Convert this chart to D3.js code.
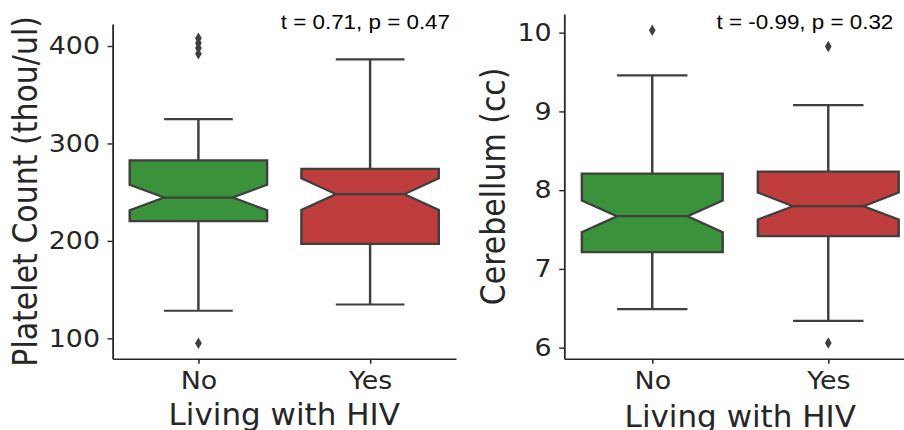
<!DOCTYPE html>
<html>
<head>
<meta charset="utf-8">
<script src="https://d3js.org/d3.v7.min.js"></script>
<style>
  html, body { margin: 0; padding: 0; background: #fff; overflow: hidden; }
</style>
</head>
<body>
<svg id="chart"></svg>
<script>
// data
var cats = ["No", "Yes"]
var colors = ["#3a923a", "#c03d3e"]

// platelet count: [whisker low, q1, notch low, median, notch high, q3, whisker high]
var plateletNo = [128.3, 220.3, 231.4, 244.5, 257.6, 282.6, 325]
var plateletYes = [134.7, 197, 231.7, 248, 264.3, 274, 386.3]
var plateletOutNo = [408, 403, 398, 392, 95]
var plateletOutYes = []
var plateletTicks = [100, 200, 300, 400]

// cerebellum volume
var cerebNo = [6.49, 7.213, 7.467, 7.67, 7.868, 8.21, 9.457]
var cerebYes = [6.34, 7.416, 7.627, 7.797, 7.97, 8.236, 9.08]
var cerebOutNo = [10.03]
var cerebOutYes = [9.825, 6.06]
var cerebTicks = [6, 7, 8, 9, 10]

// the picture is a bit wider than tall, so stretch horizontally
var sx = 1.12
var W = 904 / sx, H = 430

var svg = d3.select('#chart')
  .attr('width', 904)
  .attr('height', 430)
  .attr('viewBox', `0 0 ${W} ${H}`)
  .attr('preserveAspectRatio', 'none')

var edge = '#3f3f3f'
var ink = '#262626'
var lw = 2.2

function panel(opts) {
  var g = svg.append('g')

  var x = d3.scalePoint()
    .domain(cats)
    .range(opts.xr)
    .padding(0.5)
  var y = d3.scaleLinear()
    .domain(opts.yd)
    .range([358.7, opts.top])

  var step = x.step()
  var bw = step * 0.8

  var stats = [opts.a, opts.b]
  var outs = [opts.outA, opts.outB]

  stats.forEach(function(s, i) {
    var cx = x(cats[i])
    var L = cx - bw / 2, R = cx + bw / 2
    var cl = cx - bw / 4, cr = cx + bw / 4

    // whiskers
    g.append('line')
      .attr('x1', cx).attr('x2', cx)
      .attr('y1', y(s[0])).attr('y2', y(s[1]))
      .attr('stroke', edge).attr('stroke-width', lw)
    g.append('line')
      .attr('x1', cx).attr('x2', cx)
      .attr('y1', y(s[5])).attr('y2', y(s[6]))
      .attr('stroke', edge).attr('stroke-width', lw)
    // caps
    g.append('line')
      .attr('x1', cl).attr('x2', cr)
      .attr('y1', y(s[0])).attr('y2', y(s[0]))
      .attr('stroke', edge).attr('stroke-width', lw)
    g.append('line')
      .attr('x1', cl).attr('x2', cr)
      .attr('y1', y(s[6])).attr('y2', y(s[6]))
      .attr('stroke', edge).attr('stroke-width', lw)

    // notched box
    var pts = [
      [L, y(s[1])], [L, y(s[2])], [cl, y(s[3])], [L, y(s[4])], [L, y(s[5])],
      [R, y(s[5])], [R, y(s[4])], [cr, y(s[3])], [R, y(s[2])], [R, y(s[1])]
    ]
    g.append('path')
      .attr('d', d3.line()(pts) + 'Z')
      .attr('fill', colors[i])
      .attr('stroke', edge)
      .attr('stroke-width', lw)
      .attr('stroke-linejoin', 'miter')

    // median
    g.append('line')
      .attr('x1', cl).attr('x2', cr)
      .attr('y1', y(s[3])).attr('y2', y(s[3]))
      .attr('stroke', edge).attr('stroke-width', lw)

    // outliers (thin diamonds)
    g.selectAll(null)
      .data(outs[i])
      .enter().append('path')
      .attr('d', function(v) {
        var yy = y(v)
        return `M${cx},${yy - 5.7}L${cx + 3},${yy}L${cx},${yy + 5.7}L${cx - 3},${yy}Z`
      })
      .attr('fill', edge)
  })

  // axes
  var ya = g.append('g')
    .attr('transform', `translate(${opts.xr[0]},0)`)
    .call(d3.axisLeft(y).tickValues(opts.ticks).tickFormat(d3.format('d'))
      .tickSize(4.5).tickSizeOuter(0).tickPadding(6.7))
  var xa = g.append('g')
    .attr('transform', `translate(0,358.7)`)
    .call(d3.axisBottom(x).tickSize(5).tickSizeOuter(0).tickPadding(8.2))

  ;[ya, xa].forEach(function(a) {
    a.select('.domain').attr('stroke', ink).attr('stroke-width', 1.6)
    a.selectAll('.tick line').attr('stroke', ink).attr('stroke-width', 1.4)
    a.selectAll('.tick text')
      .attr('fill', ink)
      .style('font-family', "'DejaVu Sans', sans-serif")
      .style('font-size', '24px')
  })

  // axis titles (x title is not stretched in the reference)
  var xm = (opts.xr[0] + opts.xr[1]) / 2
  g.append('text')
    .attr('transform', `translate(${xm},${opts.xlabY}) scale(${1 / sx},1)`)
    .attr('text-anchor', 'middle')
    .attr('fill', ink)
    .style('font-family', "'DejaVu Sans', sans-serif")
    .style('font-size', '31px')
    .text('Living with HIV')

  g.append('text')
    .attr('transform', `translate(${opts.ylabX},${(358.7 + opts.top) / 2}) rotate(-90)`)
    .attr('text-anchor', 'middle')
    .attr('fill', ink)
    .style('font-family', "'DejaVu Sans', sans-serif")
    .style('font-size', '30px')
    .text(opts.ylab)

  // stats note
  g.append('text')
    .attr('x', opts.noteX)
    .attr('y', 29)
    .attr('text-anchor', 'end')
    .attr('fill', '#000')
    .style('font-family', "'Liberation Sans', Arial, sans-serif")
    .style('font-size', '20px')
    .text(opts.note)
}

panel({
  xr: [100.5, 407.1], yd: [79.1, 422.6], top: 24,
  a: plateletNo, b: plateletYes, outA: plateletOutNo, outB: plateletOutYes,
  ticks: plateletTicks, ylab: 'Platelet Count (thou/ul)', ylabX: 32.8, xlabY: 425,
  note: 't = 0.71, p = 0.47', noteX: 401.8
})

panel({
  xr: [503.8, 818.1], yd: [5.86, 10.237], top: 14,
  a: cerebNo, b: cerebYes, outA: cerebOutNo, outB: cerebOutYes,
  ticks: cerebTicks, ylab: 'Cerebellum (cc)', ylabX: 450.9, xlabY: 427,
  note: 't = -0.99, p = 0.32', noteX: 797.6
})
</script>
</body>
</html>
